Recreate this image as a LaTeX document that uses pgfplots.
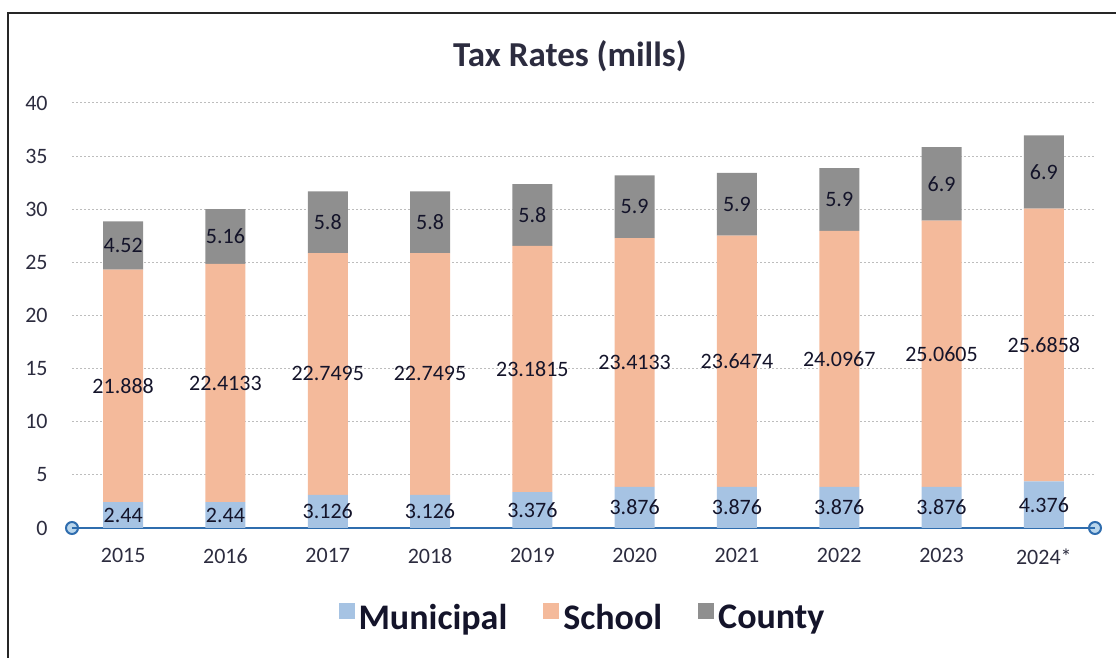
\documentclass[border=0pt]{standalone}
\usepackage{fontspec}
\setmainfont{Carlito}
\usepackage{pgfplots}
\usepackage{pgfplotstable}
\pgfplotsset{compat=1.18}
\definecolor{cMun}{HTML}{A6C3E3}
\definecolor{cSch}{HTML}{F4BA9B}
\definecolor{cCty}{HTML}{8F8F8F}
\definecolor{cInk}{HTML}{14142A}
\definecolor{cAx}{HTML}{2F6DAE}
\definecolor{cDot}{HTML}{B9D6EC}
\definecolor{cGrid}{HTML}{BDBDBD}

% mills per year: municipal, school, county
\pgfplotstableread{
x mun sch cty
0 2.44 21.888 4.52
1 2.44 22.4133 5.16
2 3.126 22.7495 5.8
3 3.126 22.7495 5.8
4 3.376 23.1815 5.8
5 3.876 23.4133 5.9
6 3.876 23.6474 5.9
7 3.876 24.0967 5.9
8 3.876 25.0605 6.9
9 4.376 25.6858 6.9
}\rates

\pgfplotsset{
  rates/.style={
    scale only axis, width=511.5pt, height=212.5pt,
    at={(36pt,65pt)}, anchor=south west,
    xmin=-0.5, xmax=9.5, ymin=0, ymax=40, clip=false,
  },
  swatch/.style={legend image code/.code={%
    \fill[##1] (0pt,-0.5pt) rectangle (8pt,7.5pt);}},
  seglabel/.style={draw=none, mark=none, nodes near coords, point meta=explicit symbolic,
    every node near coord/.style={anchor=center, inner sep=0pt,
      font=\fontsize{11}{13}\selectfont, text=cInk}},
}

\begin{document}
\begin{tikzpicture}
\useasboundingbox (0,0) rectangle (558pt,329pt);
\draw[line width=1.3pt, black!85] (4pt,-1pt) -- (4pt,322.5pt) -- (560pt,322.5pt);
\node[font=\fontsize{17.5}{20}\selectfont\bfseries, text=cInk!90] at (285pt,301pt) {Tax Rates (mills)};

\begin{axis}[rates, ybar stacked, bar width=20pt,
  axis line style={draw=none}, tick style={draw=none},
  ytick={0,5,...,40}, ymajorgrids,
  grid style={cGrid, line width=0.5pt, dash pattern=on 1pt off 1pt},
  xtick={0,...,9},
  xticklabels={2015,2016,2017,2018,2019,2020,2021,2022,2023,2024*},
  /pgf/number format/assume math mode=true,
  tick label style={font=\fontsize{11}{13}\selectfont, text=cInk!90},
  yticklabel style={anchor=east, inner sep=0pt, xshift=-12pt},
  xticklabel style={anchor=north, inner sep=0pt, yshift=-10pt},
  legend style={at={(0.5,-0.212)}, anchor=center, draw=none, fill=none,
    legend columns=3, font=\fontsize{18}{20}\selectfont\bfseries, text=cInk,
    /tikz/every even column/.append style={column sep=16pt}},
  swatch]
  \addplot[fill=cMun, draw=none] table[x=x, y=mun]{\rates};
  \addplot[fill=cSch, draw=none] table[x=x, y=sch]{\rates};
  \addplot[fill=cCty, draw=none] table[x=x, y=cty]{\rates};
  \legend{Municipal, School, County}
  \draw[cAx, line width=1pt] (rel axis cs:0,0) -- (rel axis cs:1,0);
  \filldraw[fill=cDot, draw=cAx, line width=1pt] (rel axis cs:0,0) circle[radius=3pt];
  \filldraw[fill=cDot, draw=cAx, line width=1pt] (rel axis cs:1,0) circle[radius=3pt];
\end{axis}

% segment labels, centred in each segment
\begin{axis}[rates, hide axis]
  \addplot[seglabel] table[x=x, y expr=\thisrow{mun}/2, meta=mun]{\rates};
  \addplot[seglabel] table[x=x, y expr=\thisrow{mun}+\thisrow{sch}/2, meta=sch]{\rates};
  \addplot[seglabel] table[x=x, y expr=\thisrow{mun}+\thisrow{sch}+\thisrow{cty}/2, meta=cty]{\rates};
\end{axis}
\end{tikzpicture}
\end{document}
